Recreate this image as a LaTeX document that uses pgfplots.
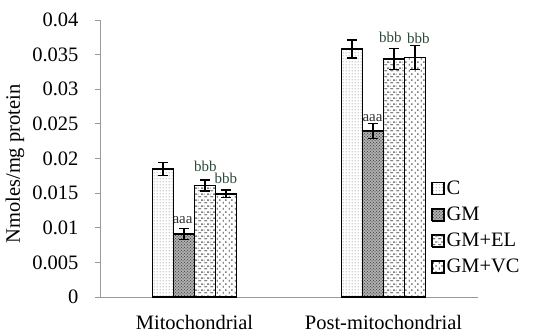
\documentclass[border=0pt]{standalone}
\usepackage{fontspec}
\setmainfont{Liberation Serif}
\usepackage{pgfplots}
\usepackage{pgfplotstable}
\pgfplotsset{compat=1.18}
\usetikzlibrary{patterns,patterns.meta}

\tikzdeclarepattern{name=hdash, type=uncolored,
  bounding box={(0pt,0pt) and (6pt,6pt)}, tile size={(6pt,6pt)},
  code={\draw[line width=0.9pt] (0.5pt,1.5pt)--(3.5pt,1.5pt);
        \draw[line width=0.9pt] (3.5pt,4.5pt)--(5.9pt,4.5pt);
        \draw[line width=0.9pt] (0pt,4.5pt)--(0.5pt,4.5pt);}}
\tikzdeclarepattern{name=vdash, type=uncolored,
  bounding box={(0pt,0pt) and (6pt,6pt)}, tile size={(6pt,6pt)},
  code={\draw[line width=0.9pt] (1.5pt,0.5pt)--(1.5pt,2.5pt);
        \draw[line width=0.9pt] (4.5pt,3.5pt)--(4.5pt,5.5pt);}}
\tikzdeclarepattern{name=fdots, type=uncolored,
  bounding box={(0pt,0pt) and (3pt,3pt)}, tile size={(3pt,3pt)},
  code={\fill (1.5pt,1.5pt) circle (0.55pt);}}

\definecolor{bcol}{HTML}{2E4A3A}

\pgfplotsset{
  outl/.style={ybar, bar width=21pt, bar shift=#1, draw=black, line width=1.4pt, fill=none},
}

\pgfplotstableread{
x C Ce GM GMe EL ELe VC VCe
0 0.0185 0.0009 0.0091 0.0008 0.0161 0.0008 0.0149 0.00055
1 0.0358 0.0013 0.0240 0.0011 0.0344 0.0015 0.0346 0.0017
}\datatable

\begin{document}
\begin{tikzpicture}
\path[use as bounding box] (-100pt,-39pt) rectangle (439pt,297pt);
\begin{axis}[
  at={(0pt,0pt)}, anchor=south west,
  scale only axis, width=378pt, height=277pt,
  ybar=0pt, bar width=21pt,
  xmin=-0.5, xmax=1.5, ymin=0, ymax=0.04,
  axis x line=bottom, axis y line=left,
  axis line style={gray!80, line width=0.8pt, -},
  xtick={0,1}, xticklabels={Mitochondrial, Post-mitochondrial},
  major x tick style={draw=none},
  extra x ticks={-0.5,0.5,1.5}, extra x tick labels={},
  extra x tick style={major tick length=6pt, tick align=outside, tick style={gray!80, line width=0.8pt}},
  ytick={0,0.005,...,0.0401},
  yticklabels={0,0.005,0.01,0.015,0.02,0.025,0.03,0.035,0.04},
  scaled y ticks=false,
  tick align=outside, major tick length=5pt,
  y tick style={gray!80, line width=0.8pt},
  tick label style={font=\fontsize{20.5}{24}\selectfont},
  yticklabel style={xshift=-13pt},
  xticklabel style={yshift=-10pt},
  ylabel={Nmoles/mg protein},
  ylabel style={font=\fontsize{20.5}{24}\selectfont, at={(axis description cs:-0.225,0.48)}, anchor=center},
  legend style={at={(axis description cs:0.868,0.25)}, anchor=west, draw=none, fill=none,
    font=\fontsize{20.5}{24}\selectfont, row sep=7pt, legend cell align=left},
  every axis plot post/.append style={legend image code/.code={\draw[#1] (0pt,-6pt) rectangle (12pt,6pt);}},
  error bars/y dir=both, error bars/y explicit,
  error bars/error bar style={black, line width=1.2pt},
  error bars/error mark options={black, rotate=90, mark size=5pt, line width=1.2pt},
]
\addplot[preaction={fill=white}, pattern=fdots, pattern color=gray!80, postaction={draw=black, line width=1.3pt}]
  table[x=x, y=C, y error=Ce] {\datatable};
\addplot[preaction={fill=gray!60}, pattern=crosshatch dots, pattern color=black!70, postaction={draw=black, line width=1.3pt}]
  table[x=x, y=GM, y error=GMe] {\datatable};
\addplot[preaction={fill=white}, pattern=hdash, pattern color=gray!90!black, postaction={draw=black, line width=1.3pt}]
  table[x=x, y=EL, y error=ELe] {\datatable};
\addplot[preaction={fill=white}, pattern=vdash, pattern color=gray!90!black, postaction={draw=black, line width=1.3pt}]
  table[x=x, y=VC, y error=VCe] {\datatable};
\legend{C, GM, GM+EL, GM+VC}
\node[anchor=base, font=\fontsize{15}{18}\selectfont, text=black!80] at (axis cs:0,0.01067) [xshift=-12pt] {aaa};
\node[anchor=base, font=\fontsize{15}{18}\selectfont, text=bcol] at (axis cs:0,0.01813) [xshift=11pt] {bbb};
\node[anchor=base, font=\fontsize{15}{18}\selectfont, text=bcol] at (axis cs:0,0.01632) [xshift=31.5pt] {bbb};
\node[anchor=base, font=\fontsize{15}{18}\selectfont, text=black!80] at (axis cs:1,0.02533) [xshift=-11pt] {aaa};
\node[anchor=base, font=\fontsize{15}{18}\selectfont, text=bcol] at (axis cs:1,0.03679) [xshift=7pt] {bbb};
\node[anchor=base, font=\fontsize{15}{18}\selectfont, text=bcol] at (axis cs:1,0.03664) [xshift=35pt] {bbb};
\end{axis}
\begin{axis}[
  at={(0pt,0pt)}, anchor=south west,
  scale only axis, width=378pt, height=277pt,
  xmin=-0.5, xmax=1.5, ymin=0, ymax=0.04,
  hide axis, clip=false,
]
\addplot[outl=-31.5pt] table[x=x, y=C] {\datatable};
\addplot[outl=-10.5pt] table[x=x, y=GM] {\datatable};
\addplot[outl=10.5pt] table[x=x, y=EL] {\datatable};
\addplot[outl=31.5pt] table[x=x, y=VC] {\datatable};
\end{axis}
\end{tikzpicture}
\end{document}
